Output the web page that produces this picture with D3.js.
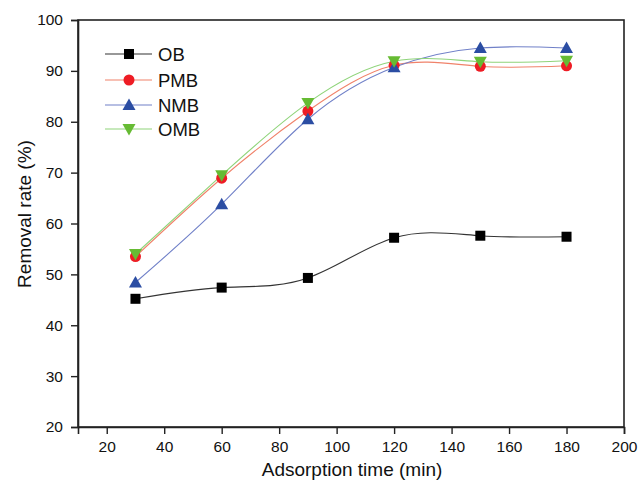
<!DOCTYPE html>
<html>
<head>
<meta charset="utf-8">
<script src="https://cdn.jsdelivr.net/npm/d3@7/dist/d3.min.js"></script>
<style>
  html, body { margin: 0; padding: 0; background: #fff; }
  svg { display: block; font-family: Arial, "Liberation Sans", sans-serif; }
</style>
</head>
<body>
<svg id="chart" width="640" height="489"></svg>
<script>
const times = [30, 60, 90, 120, 150, 180];
const seriesNames = ["OB", "PMB", "NMB", "OMB"];
const OB  = [45.2, 47.4, 49.3, 57.2, 57.6, 57.4];
const PMB = [53.5, 68.9, 82.1, 91.1, 90.9, 91.0];
const NMB = [48.4, 63.8, 80.5, 90.7, 94.5, 94.5];
const OMB = [54.0, 69.5, 83.7, 91.9, 91.8, 92.0];
const xTicks = [20, 40, 60, 80, 100, 120, 140, 160, 180, 200];
const yTicks = [20, 30, 40, 50, 60, 70, 80, 90, 100];
const xTitle = "Adsorption time (min)";
const yTitle = "Removal rate (%)";

const styles = {
  OB:  { line: "#333333", fill: "#000000", shape: "square" },
  PMB: { line: "#f0826a", fill: "#ee1c24", shape: "circle" },
  NMB: { line: "#7080c8", fill: "#2b4da3", shape: "up" },
  OMB: { line: "#8fd47a", fill: "#66bb33", shape: "down" }
};
const values = { OB, PMB, NMB, OMB };

const svg = d3.select("#chart");
const L = 78, R = 624, T = 20, B = 427;
const x = d3.scaleLinear().domain([10, 200]).range([L, R]);
const y = d3.scaleLinear().domain([20, 100]).range([B, T]);

// frame
svg.append("rect").attr("x", L).attr("y", T).attr("width", R - L).attr("height", B - T)
  .attr("fill", "none").attr("stroke", "#222").attr("stroke-width", 1.6);

const xAxis = svg.append("g").attr("transform", `translate(0,${B})`)
  .call(d3.axisBottom(x).tickValues(xTicks).tickSize(7).tickPadding(7).tickFormat(d3.format("d")));
const yAxis = svg.append("g").attr("transform", `translate(${L},0)`)
  .call(d3.axisLeft(y).tickValues(yTicks).tickSize(7).tickPadding(8).tickFormat(d3.format("d")));
[xAxis, yAxis].forEach(g => {
  g.select(".domain").attr("stroke", "#222").attr("stroke-width", 1.6);
  g.selectAll(".tick line").attr("stroke", "#222").attr("stroke-width", 1.4);
  g.selectAll(".tick text").attr("fill", "#111").style("font-size", "15.5px");
});

svg.append("text").attr("x", 352).attr("y", 476).attr("text-anchor", "middle")
  .style("font-size", "19px").attr("fill", "#111").text(xTitle);
svg.append("text").attr("transform", `translate(31,214) rotate(-90)`)
  .attr("text-anchor", "middle").style("font-size", "19px").attr("fill", "#111").text(yTitle);

function marker(g, shape, cx, cy, fill) {
  if (shape === "square") {
    g.append("rect").attr("x", cx - 5).attr("y", cy - 5).attr("width", 10).attr("height", 10).attr("fill", fill);
  } else if (shape === "circle") {
    g.append("circle").attr("cx", cx).attr("cy", cy).attr("r", 5.5).attr("fill", fill);
  } else if (shape === "up") {
    g.append("path").attr("d", `M${cx},${cy - 6.5}L${cx + 6.5},${cy + 5}L${cx - 6.5},${cy + 5}Z`).attr("fill", fill);
  } else {
    g.append("path").attr("d", `M${cx},${cy + 6.5}L${cx + 6.5},${cy - 5}L${cx - 6.5},${cy - 5}Z`).attr("fill", fill);
  }
}

const line = d3.line().x(d => x(d[0])).y(d => y(d[1])).curve(d3.curveNatural);
seriesNames.forEach(name => {
  const pts = times.map((t, i) => [t, values[name][i]]);
  svg.append("path").datum(pts).attr("d", line).attr("fill", "none")
    .attr("stroke", styles[name].line).attr("stroke-width", 1.1);
});
seriesNames.forEach(name => {
  const g = svg.append("g");
  times.forEach((t, i) => marker(g, styles[name].shape, x(t), y(values[name][i]), styles[name].fill));
});

// legend
const legY = [54, 80, 105, 129];
seriesNames.forEach((name, i) => {
  const g = svg.append("g");
  g.append("line").attr("x1", 105).attr("x2", 152).attr("y1", legY[i]).attr("y2", legY[i])
    .attr("stroke", styles[name].line).attr("stroke-width", 1.1);
  marker(g, styles[name].shape, 129, legY[i], styles[name].fill);
  g.append("text").attr("x", 158).attr("y", legY[i]).attr("dy", "0.36em")
    .style("font-size", "18.5px").attr("fill", "#111").text(name);
});
</script>
</body>
</html>
